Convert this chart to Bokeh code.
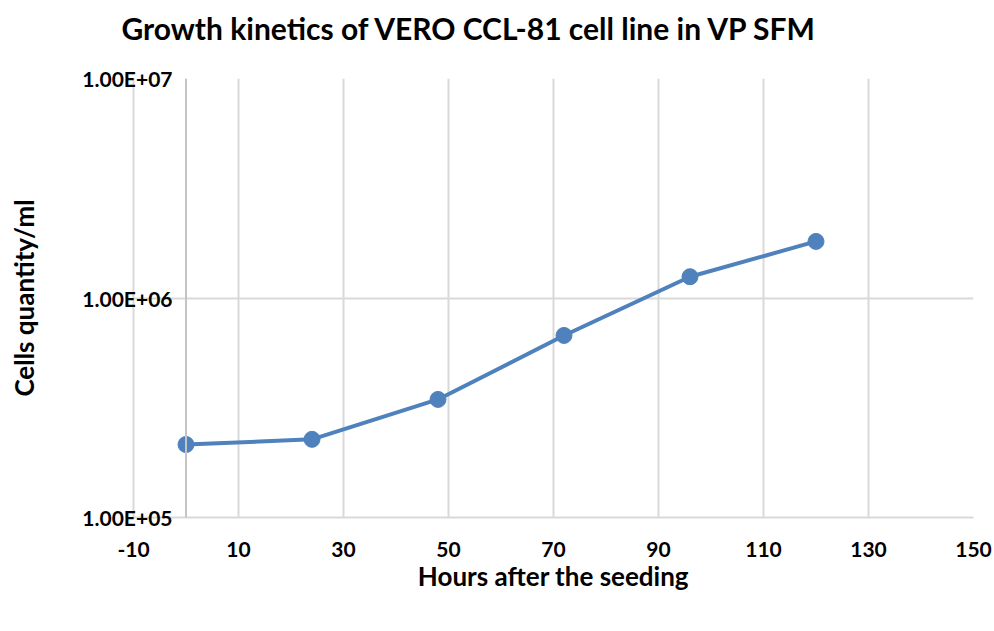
from bokeh.plotting import figure
from bokeh.models import Range1d, FixedTicker, Legend, LegendItem, Span, Title
from bokeh.embed import file_html
from bokeh.resources import INLINE

hours = [0, 24, 48, 72, 96, 120]
cells = [2.15e5, 2.27e5, 3.45e5, 6.75e5, 1.25e6, 1.81e6]
x_ticks = [-10, 10, 30, 50, 70, 90, 110, 130, 150]
x_tick_labels = ["-10", "10", "30", "50", "70", "90", "110", "130", "150"]
y_ticks = [1e5, 1e6, 1e7]
y_tick_labels = ["1.00E+05", "1.00E+06", "1.00E+07"]

FONT = "Lato"
BLUE = "#4f81bd"
GRID = "#d9d9d9"

p = figure(frame_width=840, frame_height=439, x_range=Range1d(-10, 150), y_range=Range1d(1e5, 1e7),
           y_axis_type="log", output_backend="svg", toolbar_location=None,
           min_border_left=133, min_border_right=21, min_border_top=78, min_border_bottom=114)

p.title.text = "Growth kinetics of VERO CCL-81 cell line in VP SFM"
p.title.text_font = FONT
p.title.text_font_size = "30px"
p.title.text_font_style = "bold"
p.title.text_color = "black"
p.title.align = "left"
p.title.offset = -12
p.title.standoff = 0

# spacer between the title and the plot area
p.add_layout(Title(text=" ", text_font_size="1px", standoff=30), "above")

p.outline_line_color = None
p.background_fill_color = "white"

# x axis
xa = p.xaxis[0]
xa.ticker = FixedTicker(ticks=x_ticks)
xa.major_label_overrides = dict(zip(x_ticks, x_tick_labels))
xa.major_tick_out = 0
xa.major_tick_in = 0
xa.minor_tick_out = 0
xa.minor_tick_in = 0
xa.major_label_standoff = 24
xa.axis_line_color = GRID
xa.axis_line_width = 2
xa.major_label_text_font = FONT
xa.major_label_text_font_size = "21px"
xa.major_label_text_font_style = "bold"
xa.major_label_text_color = "black"
xa.axis_label = "Hours after the seeding"
xa.axis_label_text_font = FONT
xa.axis_label_text_font_size = "26px"
xa.axis_label_text_font_style = "bold"
xa.axis_label_text_color = "black"
xa.axis_label_standoff = 0

# y axis
ya = p.yaxis[0]
ya.ticker = FixedTicker(ticks=y_ticks, minor_ticks=[])
ya.major_label_overrides = dict(zip(y_ticks, y_tick_labels))
ya.major_tick_out = 0
ya.major_tick_in = 0
ya.minor_tick_out = 0
ya.minor_tick_in = 0
ya.major_label_standoff = -39
ya.axis_line_color = GRID
ya.axis_line_width = 2
ya.major_label_text_font = FONT
ya.major_label_text_font_size = "21px"
ya.major_label_text_font_style = "bold"
ya.major_label_text_color = "black"
ya.axis_label = "Cells quantity/ml"
ya.axis_label_text_font = FONT
ya.axis_label_text_font_size = "26px"
ya.axis_label_text_font_style = "bold"
ya.axis_label_text_color = "black"
ya.axis_label_standoff = 39

p.xgrid.grid_line_color = GRID
p.xgrid.grid_line_width = 2
p.ygrid.grid_line_color = GRID
p.ygrid.grid_line_width = 2

# vertical axis crossing at x = 0
p.add_layout(Span(location=0, dimension="height", line_color="#c4c4c4", line_width=2))

ln = p.line(hours, cells, line_color=BLUE, line_width=4)
sc = p.scatter(hours, cells, size=16, fill_color=BLUE, line_color=BLUE)

legend = Legend(items=[LegendItem(label="Vero cell growth", renderers=[ln, sc])],
                location=(227, 0), orientation="horizontal",
                border_line_color=None, background_fill_alpha=0,
                label_text_font=FONT, label_text_font_size="21px",
                label_text_font_style="bold", label_text_color="black",
                glyph_width=58, glyph_height=24, label_height=24,
                padding=0, margin=0, label_standoff=4)
p.add_layout(legend, "below")

open("out.html", "w").write(file_html(p, INLINE))
